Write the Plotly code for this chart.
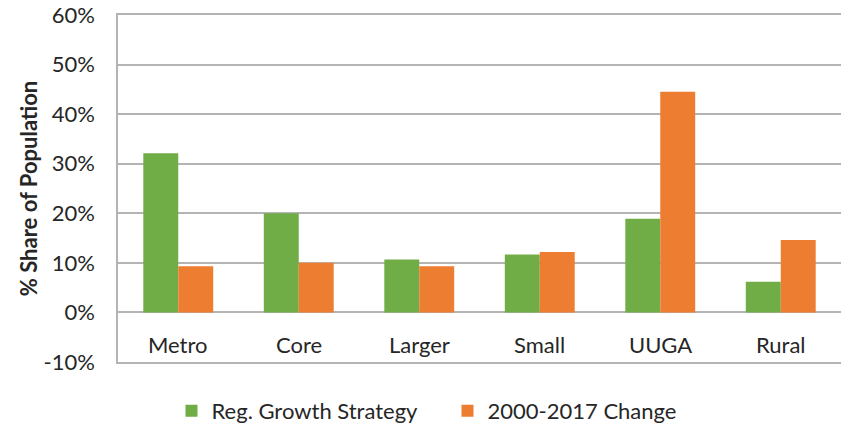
import plotly.graph_objects as go

# Participación de población por tipo de área
categorias = ["Metro", "Core", "Larger", "Small", "UUGA", "Rural"]
estrategia = [0.321, 0.200, 0.107, 0.117, 0.189, 0.062]
cambio_2000_2017 = [0.093, 0.100, 0.093, 0.122, 0.445, 0.146]

ticks_y = [-0.1, 0.0, 0.1, 0.2, 0.3, 0.4, 0.5, 0.6]
etiquetas_y = ["-10%", "0%", "10%", "20%", "30%", "40%", "50%", "60%"]

VERDE = "#70AD47"
NARANJA = "#ED7D31"
GRIS = "#B4B4B4"
TEXTO = "#262626"
FUENTE = "Lato, 'Open Sans', sans-serif"

fig = go.Figure()
fig.add_trace(go.Bar(
    x=categorias, y=estrategia, name="Reg. Growth Strategy",
    marker=dict(color=VERDE, line=dict(width=0)),
))
fig.add_trace(go.Bar(
    x=categorias, y=cambio_2000_2017, name="2000-2017 Change",
    marker=dict(color=NARANJA, line=dict(width=0)),
))

# etiquetas de categoría dentro de la franja 0% .. -10%, como en el original
for c in categorias:
    fig.add_annotation(
        x=c, y=-0.065, xref="x", yref="y", text=c, showarrow=False,
        font=dict(size=22, color=TEXTO, family=FUENTE),
    )

fig.update_layout(
    width=841, height=426,
    paper_bgcolor="white", plot_bgcolor="white",
    barmode="group", bargap=0.42, bargroupgap=0,
    margin=dict(l=118, r=0, t=15, b=64, autoexpand=False),
    font=dict(family=FUENTE, size=22, color=TEXTO),
    xaxis=dict(
        showticklabels=False, showgrid=False, automargin=False,
        showline=True, mirror=True, linecolor=GRIS, linewidth=1.5,
    ),
    yaxis=dict(
        range=[-0.1, 0.6], tickvals=ticks_y, ticktext=etiquetas_y,
        showgrid=True, gridcolor=GRIS, gridwidth=1.5,
        zeroline=True, zerolinecolor=GRIS, zerolinewidth=1.5,
        showline=True, linecolor=GRIS, linewidth=1.5,
        ticks="", ticklabelstandoff=17, automargin=False,
        ticklabeloverflow="allow",
        title=dict(text="<b>% Share of Population</b>", standoff=0,
                   font=dict(size=22, color=TEXTO)),
    ),
    legend=dict(
        orientation="h", x=0.074, xanchor="left", y=-0.141, yanchor="middle",
        font=dict(size=22, color=TEXTO),
        itemwidth=30, tracegroupgap=0,
        entrywidth=231, entrywidthmode="pixels",
    ),
)

# sin el margen por defecto del body, la figura ocupa la ventana entera
fig.write_html(
    "out.html",
    config={"displayModeBar": False},
    post_script="document.body.style.margin = '0px';",
)
